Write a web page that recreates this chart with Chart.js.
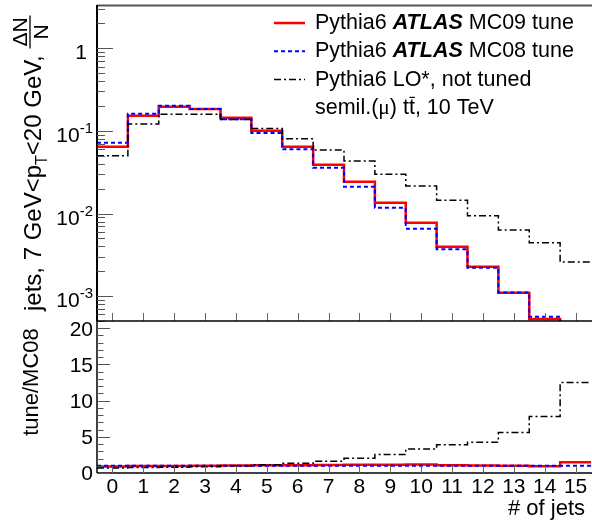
<!DOCTYPE html>
<html>
<head>
<meta charset="utf-8">
<script src="https://cdn.jsdelivr.net/npm/chart.js@4.4.1/dist/chart.umd.min.js"></script>
<style>
body { margin: 0; background: #fff; }
#wrap { position: relative; width: 592px; height: 522px; }
canvas { position: absolute; left: 0; top: 0; }
</style>
</head>
<body>
<div id="wrap">
  <canvas id="graficoTopo" width="592" height="522"></canvas>
  <canvas id="graficoRazao" width="592" height="522"></canvas>
</div>
<script>
// dados
var nJets = [0, 1, 2, 3, 4, 5, 6, 7, 8, 9, 10, 11, 12, 13, 14, 15];
var xLabels = ['0', '1', '2', '3', '4', '5', '6', '7', '8', '9', '10', '11', '12', '13', '14', '15'];

var mc09 = [0.0644, 0.153, 0.196, 0.184, 0.1445, 0.1005, 0.0644, 0.039, 0.0243, 0.0135, 0.00774, 0.00396, 0.00227, 0.0011, 0.000528, 0.00031];
var mc08 = [0.072, 0.161, 0.202, 0.184, 0.138, 0.094, 0.060, 0.0359, 0.0211, 0.01175, 0.00655, 0.00369, 0.00221, 0.00111, 0.000564, 0.000207];
var loNotTuned = [0.050, 0.121, 0.159, 0.159, 0.137, 0.107, 0.0805, 0.0587, 0.0432, 0.0298, 0.0215, 0.01445, 0.0094, 0.0063, 0.00443, 0.00259];

var razaoMc09 = [0.89, 0.95, 0.97, 1.0, 1.05, 1.07, 1.07, 1.09, 1.15, 1.15, 1.18, 1.07, 1.03, 0.99, 0.94, 1.5];
var razaoMc08 = [1, 1, 1, 1, 1, 1, 1, 1, 1, 1, 1, 1, 1, 1, 1, 1];
var razaoLo = [0.69, 0.75, 0.79, 0.86, 0.99, 1.14, 1.34, 1.63, 2.05, 2.54, 3.3, 3.9, 4.25, 5.6, 7.8, 12.5];

var logTicks = [0.001, 0.01, 0.1, 1];
var logExpoentes = ['-3', '-2', '-1', ''];
var razaoTicks = [0, 5, 10, 15, 20];

var FONTE = '"Liberation Sans", Arial, Helvetica, sans-serif';

var estilos = {
    mc09: { borderColor: '#ff0000', borderWidth: 2.5, borderDash: [] },
    mc08: { borderColor: '#0000ff', borderWidth: 2, borderDash: [4, 3] },
    lo:   { borderColor: '#000000', borderWidth: 1.5, borderDash: [7, 3, 2, 3] }
};

// histograma: um ponto na borda esquerda de cada bin + borda final
function degraus(vals) {
    var pts = vals.map(function (v, i) { return { x: nJets[i] - 0.5, y: v }; });
    pts.push({ x: nJets[nJets.length - 1] + 0.5, y: vals[vals.length - 1] });
    return pts;
}

function dataset(label, vals, estilo, ordem) {
    return {
        label: label,
        data: degraus(vals),
        borderColor: estilo.borderColor,
        borderWidth: estilo.borderWidth,
        borderDash: estilo.borderDash,
        stepped: true,
        fill: false,
        pointRadius: 0,
        order: ordem
    };
}

function linha(ctx, x1, y1, x2, y2, cor, larg) {
    ctx.beginPath();
    ctx.strokeStyle = cor;
    ctx.lineWidth = larg;
    ctx.setLineDash([]);
    ctx.moveTo(x1, y1);
    ctx.lineTo(x2, y2);
    ctx.stroke();
}

var eixosTopo = {
    id: 'eixosTopo',
    afterDraw: function (chart) {
        var ctx = chart.ctx;
        var a = chart.chartArea;
        var xs = chart.scales.x, ys = chart.scales.y;
        ctx.save();

        // moldura
        linha(ctx, a.left, a.top - 0.5, 592, a.top - 0.5, '#555', 2);
        linha(ctx, a.left, a.top - 1, a.left, a.bottom, '#000', 2);

        // ticks do eixo y (log)
        for (var e = -4; e <= 0; e++) {
            for (var m = 1; m <= 9; m++) {
                var v = m * Math.pow(10, e);
                if (v < ys.min || v > ys.max) continue;
                var y = Math.round(ys.getPixelForValue(v)) + 0.5;
                linha(ctx, a.left, y, a.left + (m === 1 ? 16 : 8), y, '#555', 1);
            }
        }
        // ticks do eixo x
        nJets.forEach(function (n) {
            var x = Math.round(xs.getPixelForValue(n)) + 0.5;
            linha(ctx, x, a.bottom, x, a.bottom - 8, '#666', 1);
        });

        // rotulos do eixo y
        ctx.fillStyle = '#000';
        ctx.textBaseline = 'alphabetic';
        logTicks.forEach(function (v, i) {
            var y = ys.getPixelForValue(v);
            if (logExpoentes[i] === '') {
                ctx.font = '21px ' + FONTE;
                ctx.textAlign = 'right';
                ctx.fillText('1', 87, y + 11);
            } else {
                ctx.font = '15px ' + FONTE;
                ctx.textAlign = 'right';
                ctx.fillText(logExpoentes[i], 93, y + 2);
                var w = ctx.measureText(logExpoentes[i]).width;
                ctx.font = '21px ' + FONTE;
                ctx.fillText('10', 93 - w, y + 11);
            }
        });

        // legenda
        var legenda = [
            { est: estilos.mc09, pre: 'Pythia6 ', bold: 'ATLAS', pos: ' MC09 tune' },
            { est: estilos.mc08, pre: 'Pythia6 ', bold: 'ATLAS', pos: ' MC08 tune' },
            { est: estilos.lo, pre: 'Pythia6 LO*, not tuned', bold: '', pos: '' }
        ];
        legenda.forEach(function (it, i) {
            var y = 23 + i * 28.3;
            ctx.beginPath();
            ctx.strokeStyle = it.est.borderColor;
            ctx.lineWidth = it.est.borderWidth;
            ctx.setLineDash(it.est.borderDash);
            ctx.moveTo(274, y);
            ctx.lineTo(305, y);
            ctx.stroke();
            ctx.setLineDash([]);
            ctx.textAlign = 'left';
            ctx.textBaseline = 'middle';
            var x = 315;
            ctx.font = '21.5px ' + FONTE;
            ctx.fillText(it.pre, x, y);
            x += ctx.measureText(it.pre).width;
            if (it.bold) {
                ctx.font = 'italic bold 21.5px ' + FONTE;
                ctx.fillText(it.bold, x, y);
                x += ctx.measureText(it.bold).width;
                ctx.font = '21.5px ' + FONTE;
                ctx.fillText(it.pos, x, y);
            }
        });
        // semil.(mu) t tbar, 10 TeV
        var y4 = 23 + 3 * 28.3;
        var x4 = 315;
        ctx.font = '21.5px ' + FONTE;
        ctx.fillText('semil.(', x4, y4);
        x4 += ctx.measureText('semil.(').width;
        ctx.font = '21.5px "Liberation Serif", serif';
        ctx.fillText('\u03bc', x4, y4);
        x4 += ctx.measureText('\u03bc').width;
        ctx.font = '21.5px ' + FONTE;
        ctx.fillText(') t', x4, y4);
        x4 += ctx.measureText(') t').width;
        var wt = ctx.measureText('t').width;
        ctx.fillText('t', x4, y4);
        linha(ctx, x4 + 0.5, y4 - 10.5, x4 + wt, y4 - 10.5, '#000', 1.2);
        x4 += wt;
        ctx.fillText(', 10 TeV', x4, y4);

        // titulo do eixo y (rotacionado)
        ctx.translate(41, 311);
        ctx.rotate(-Math.PI / 2);
        ctx.textAlign = 'left';
        ctx.textBaseline = 'alphabetic';
        var px = 0;
        ctx.font = '24px ' + FONTE;
        ctx.fillText('jets, 7 GeV<p', px, 0);
        px += ctx.measureText('jets, 7 GeV<p').width;
        ctx.font = '16px ' + FONTE;
        ctx.fillText('T', px, 6);
        px += ctx.measureText('T').width;
        ctx.font = '24px ' + FONTE;
        ctx.fillText('<20 GeV, ', px, 0);
        px += ctx.measureText('<20 GeV, ').width;
        ctx.font = '21px ' + FONTE;
        var wNum = ctx.measureText('\u0394N').width;
        var wDen = ctx.measureText('N').width;
        var wBar = wNum + 4;
        linha(ctx, px, -11, px + wBar, -11, '#000', 1.3);
        ctx.fillText('\u0394N', px + (wBar - wNum) / 2, -14);
        ctx.fillText('N', px + (wBar - wDen) / 2, 7);

        ctx.restore();
    }
};

var eixosRazao = {
    id: 'eixosRazao',
    afterDraw: function (chart) {
        var ctx = chart.ctx;
        var a = chart.chartArea;
        var xs = chart.scales.x, ys = chart.scales.y;
        ctx.save();

        // moldura
        linha(ctx, a.left, a.top, 592, a.top, '#000', 1.5);
        linha(ctx, a.left, a.top, a.left, a.bottom, '#000', 1.5);
        linha(ctx, a.left, a.bottom, 592, a.bottom, '#000', 1.5);

        for (var v = 0; v <= 20; v++) {
            var y = Math.round(ys.getPixelForValue(v)) + 0.5;
            linha(ctx, a.left, y, a.left + (v % 5 === 0 ? 13 : 6.5), y, '#555', 1);
        }
        nJets.forEach(function (n) {
            var x = Math.round(xs.getPixelForValue(n)) + 0.5;
            linha(ctx, x, a.bottom, x, a.bottom - 7, '#666', 1);
        });

        ctx.fillStyle = '#000';
        ctx.font = '21px ' + FONTE;
        ctx.textAlign = 'right';
        ctx.textBaseline = 'middle';
        razaoTicks.forEach(function (v) {
            ctx.fillText(String(v), 93, ys.getPixelForValue(v) + 1.5);
        });

        ctx.textAlign = 'center';
        nJets.forEach(function (n, i) {
            ctx.fillText(xLabels[i], xs.getPixelForValue(n), 487);
        });

        ctx.font = '22px ' + FONTE;
        ctx.textAlign = 'right';
        ctx.fillText('# of jets', 585, 509);

        ctx.translate(38, 382);
        ctx.rotate(-Math.PI / 2);
        ctx.textAlign = 'center';
        ctx.textBaseline = 'alphabetic';
        ctx.fillText('tune/MC08', 0, 0);
        ctx.restore();
    }
};

var grafico_topo = new Chart(document.getElementById('graficoTopo').getContext('2d'), {
    type: 'line',
    data: {
        datasets: [
            dataset('Pythia6 ATLAS MC09 tune', mc09, estilos.mc09, 3),
            dataset('Pythia6 ATLAS MC08 tune', mc08, estilos.mc08, 2),
            dataset('Pythia6 LO*, not tuned', loNotTuned, estilos.lo, 1)
        ]
    },
    options: {
        responsive: false,
        animation: false,
        layout: { padding: { left: 97, right: 1, top: 6, bottom: 201 } },
        plugins: { legend: { display: false }, tooltip: { enabled: false } },
        scales: {
            x: { type: 'linear', min: -0.5, max: 15.5, display: false },
            y: { type: 'logarithmic', min: 0.0005, max: 3.25, display: false }
        }
    },
    plugins: [eixosTopo]
});

var grafico_razao = new Chart(document.getElementById('graficoRazao').getContext('2d'), {
    type: 'line',
    data: {
        datasets: [
            dataset('MC09/MC08', razaoMc09, estilos.mc09, 3),
            dataset('MC08/MC08', razaoMc08, estilos.mc08, 2),
            dataset('LO*/MC08', razaoLo, estilos.lo, 1)
        ]
    },
    options: {
        responsive: false,
        animation: false,
        layout: { padding: { left: 97, right: 1, top: 321, bottom: 49 } },
        plugins: { legend: { display: false }, tooltip: { enabled: false } },
        scales: {
            x: { type: 'linear', min: -0.5, max: 15.5, display: false },
            y: { type: 'linear', min: 0, max: 21, display: false }
        }
    },
    plugins: [eixosRazao]
});
</script>
</body>
</html>
